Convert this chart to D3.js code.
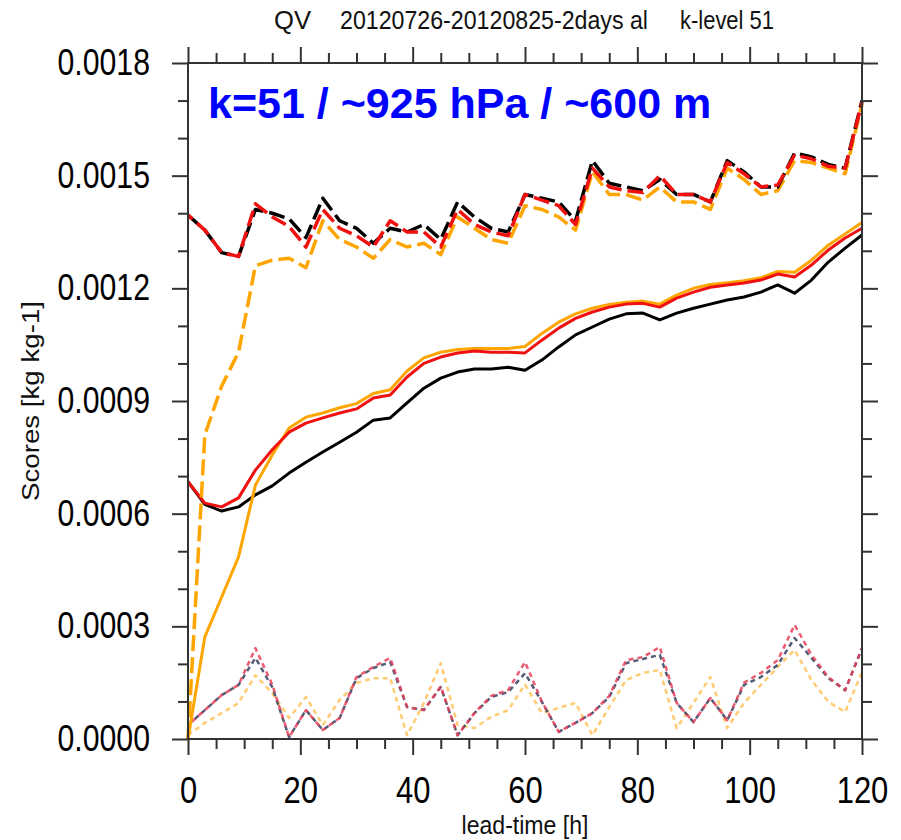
<!DOCTYPE html>
<html>
<head>
<meta charset="utf-8">
<script src="https://cdn.jsdelivr.net/npm/d3@7"></script>
<style>
  body { margin: 0; background: #fff; }
  svg { display: block; }
</style>
</head>
<body>
<svg id="chart"></svg>
<script>
// values are in units of 1e-4 kg/kg
const unit = 1e-4;

const leadTimes = [0, 3, 6, 9, 12, 15, 18, 21, 24, 27, 30, 33, 36, 39, 42, 45, 48, 51, 54, 57, 60,
    63, 66, 69, 72, 75, 78, 81, 84, 87, 90, 93, 96, 99, 102, 105, 108, 111, 114, 117, 120];

// long dashed
const dashBlack = [13.95, 13.55, 12.95, 12.85, 14.1, 14.0, 13.85, 13.35, 14.4, 13.8, 13.6, 13.2, 13.6, 13.5, 13.7, 13.3, 14.3, 13.9, 13.6, 13.5, 14.5,
    14.4, 14.3, 13.8, 15.4, 14.8, 14.7, 14.6, 14.9, 14.5, 14.5, 14.3, 15.4, 15.1, 14.7, 14.7, 15.6, 15.5, 15.3, 15.2, 17.0];
const dashRed = [13.95, 13.55, 12.95, 12.85, 14.25, 13.9, 13.65, 13.1, 14.1, 13.6, 13.4, 13.1, 13.8, 13.5, 13.5, 13.1, 14.1, 13.7, 13.5, 13.4, 14.5,
    14.35, 14.2, 13.7, 15.2, 14.7, 14.6, 14.55, 15.0, 14.5, 14.5, 14.3, 15.35, 15.05, 14.7, 14.75, 15.55, 15.45, 15.25, 15.2, 16.95];
const dashOrange = [0, 8.1, 9.4, 10.3, 12.6, 12.75, 12.8, 12.55, 13.8, 13.3, 13.1, 12.8, 13.3, 13.1, 13.2, 12.9, 13.9, 13.6, 13.3, 13.2, 14.2,
    14.1, 13.9, 13.55, 15.1, 14.5, 14.5, 14.35, 14.7, 14.3, 14.3, 14.1, 15.2, 14.9, 14.5, 14.6, 15.4, 15.35, 15.2, 15.05, 16.9];

// solid
const solidBlack = [6.85, 6.25, 6.07, 6.18, 6.5, 6.74, 7.08, 7.37, 7.64, 7.9, 8.17, 8.49, 8.55, 8.95, 9.34, 9.61, 9.77, 9.85, 9.85, 9.9, 9.82,
    10.09, 10.44, 10.76, 10.97, 11.18, 11.32, 11.34, 11.16, 11.34, 11.47, 11.58, 11.69, 11.77, 11.9, 12.09, 11.87, 12.22, 12.7, 13.07, 13.42];
const solidRed = [6.85, 6.28, 6.18, 6.42, 7.16, 7.7, 8.17, 8.41, 8.55, 8.68, 8.79, 9.08, 9.16, 9.64, 10.0, 10.17, 10.28, 10.33, 10.3, 10.3, 10.28,
    10.62, 10.94, 11.2, 11.37, 11.5, 11.58, 11.6, 11.5, 11.74, 11.9, 12.03, 12.09, 12.14, 12.22, 12.38, 12.3, 12.62, 13.02, 13.34, 13.6];
const solidOrange = [0, 2.72, 3.78, 4.85, 6.76, 7.56, 8.28, 8.57, 8.68, 8.82, 8.93, 9.2, 9.3, 9.8, 10.15, 10.3, 10.37, 10.4, 10.4, 10.4, 10.45,
    10.8, 11.1, 11.32, 11.47, 11.57, 11.63, 11.66, 11.58, 11.82, 12.0, 12.1, 12.15, 12.2, 12.28, 12.45, 12.43, 12.75, 13.15, 13.45, 13.75];

// dotted
const dotBlack = [0.37, 0.77, 1.17, 1.44, 2.16, 1.38, 0.05, 0.77, 0.24, 0.56, 1.62, 1.89, 2.05, 0.85, 0.77, 1.38, 0.1, 0.69, 1.12, 1.25, 1.75,
    0.99, 0.19, 0.43, 0.69, 1.12, 2.02, 2.13, 2.24, 0.96, 0.45, 1.09, 0.5, 1.44, 1.65, 1.97, 2.69, 2.16, 1.62, 1.3, 2.42];
const dotRed = [0.37, 0.77, 1.17, 1.44, 2.42, 1.45, 0.05, 0.77, 0.24, 0.56, 1.65, 1.92, 2.16, 0.85, 0.77, 1.4, 0.1, 0.69, 1.15, 1.3, 2.05,
    1.0, 0.19, 0.43, 0.69, 1.15, 2.1, 2.18, 2.45, 0.96, 0.45, 1.09, 0.5, 1.5, 1.76, 2.1, 3.04, 2.24, 1.65, 1.3, 2.42];
const dotOrange = [0.1, 0.43, 0.69, 0.96, 1.7, 1.22, 0.56, 1.12, 0.37, 1.04, 1.49, 1.62, 1.62, 0.1, 0.96, 2.02, 0.37, 0.29, 0.59, 0.77, 1.45,
    0.69, 0.83, 0.96, 0.1, 0.85, 1.57, 1.76, 1.84, 0.29, 0.96, 1.65, 0.29, 0.96, 1.44, 1.92, 2.37, 1.57, 0.99, 0.72, 1.78];

const yMajor = [0, 0.0003, 0.0006, 0.0009, 0.0012, 0.0015, 0.0018];
const xMajor = [0, 20, 40, 60, 80, 100, 120];

const width = 901, height = 840;
const margin = {top: 63, right: 39, bottom: 101, left: 188};

const svg = d3.select("#chart")
    .attr("width", width)
    .attr("height", height);

svg.append("rect").attr("width", width).attr("height", height).attr("fill", "#fff");

const x = d3.scaleLinear().domain([0, 120]).range([margin.left, width - margin.right]);
const y = d3.scaleLinear().domain([0, 0.0018]).range([height - margin.bottom, margin.top]);

const line = d3.line()
    .x((d, i) => x(leadTimes[i]))
    .y(d => y(d * unit));

const series = [
    {v: dotOrange, color: "#ffc25a", w: 2.5, dash: "5,4", op: 0.85},
    {v: dotBlack, color: "#34405e", w: 2.5, dash: "5,4", op: 0.85},
    {v: dotRed, color: "#e8405a", w: 2.5, dash: "5,4", op: 0.85, off: 4},
    {v: solidBlack, color: "#000", w: 3},
    {v: solidOrange, color: "#ffa500", w: 3},
    {v: solidRed, color: "#f01010", w: 3},
    {v: dashOrange, color: "#ffa500", w: 3.5, dash: "16,6"},
    {v: dashBlack, color: "#000", w: 3.5, dash: "16,6"},
    {v: dashRed, color: "#f01010", w: 3.5, dash: "16,6", off: 10}
];

svg.append("g")
    .selectAll("path")
    .data(series)
    .join("path")
    .attr("d", d => line(d.v))
    .attr("fill", "none")
    .attr("stroke", d => d.color)
    .attr("stroke-width", d => d.w)
    .attr("stroke-dasharray", d => d.dash || null)
    .attr("stroke-dashoffset", d => d.off || 0)
    .attr("stroke-opacity", d => d.op || 1)
    .attr("stroke-linejoin", "round");

// axes
const axisColor = "#333";
const tickFont = "'Liberation Sans', Arial, sans-serif";

function styleAxis(g) {
    g.select(".domain").remove();
    g.selectAll(".tick line").attr("stroke", axisColor).attr("stroke-width", 2);
    g.selectAll("text").attr("fill", "#000").attr("font-family", tickFont);
}

// the source image is stretched vertically: tall glyphs squeezed to a narrower width
function squeeze(sel, size, factor) {
    sel.attr("font-size", size)
        .each(function () {
            const w = this.getComputedTextLength();
            d3.select(this)
                .attr("textLength", w * factor)
                .attr("lengthAdjust", "spacingAndGlyphs");
        });
}

// minor ticks
const yMinor = d3.range(0, 0.00181, 0.0001).filter(v => !yMajor.some(m => Math.abs(m - v) < 1e-9));
const xMinor = d3.range(0, 121, 5).filter(v => v % 20 !== 0);

svg.append("g")
    .attr("transform", `translate(${margin.left},0)`)
    .call(d3.axisLeft(y).tickValues(yMinor).tickSize(10).tickFormat(""))
    .call(styleAxis);
svg.append("g")
    .attr("transform", `translate(${width - margin.right},0)`)
    .call(d3.axisRight(y).tickValues(yMinor).tickSize(10).tickFormat(""))
    .call(styleAxis);
svg.append("g")
    .attr("transform", `translate(0,${height - margin.bottom})`)
    .call(d3.axisBottom(x).tickValues(xMinor).tickSize(10).tickFormat(""))
    .call(styleAxis);
svg.append("g")
    .attr("transform", `translate(0,${margin.top})`)
    .call(d3.axisTop(x).tickValues(xMinor).tickSize(10).tickFormat(""))
    .call(styleAxis);

// major ticks
svg.append("g")
    .attr("transform", `translate(${margin.left},0)`)
    .call(d3.axisLeft(y).tickValues(yMajor).tickSize(16).tickPadding(22).tickFormat(d3.format(".4f")))
    .call(styleAxis)
    .selectAll("text").call(squeeze, 36, 0.84);
svg.append("g")
    .attr("transform", `translate(${width - margin.right},0)`)
    .call(d3.axisRight(y).tickValues(yMajor).tickSize(16).tickFormat(""))
    .call(styleAxis);
svg.append("g")
    .attr("transform", `translate(0,${height - margin.bottom})`)
    .call(d3.axisBottom(x).tickValues(xMajor).tickSize(16).tickPadding(22).tickFormat(d3.format("d")))
    .call(styleAxis)
    .selectAll("text").call(squeeze, 36, 0.86);
svg.append("g")
    .attr("transform", `translate(0,${margin.top})`)
    .call(d3.axisTop(x).tickValues(xMajor).tickSize(16).tickFormat(""))
    .call(styleAxis);

// frame
svg.append("rect")
    .attr("x", margin.left)
    .attr("y", margin.top)
    .attr("width", width - margin.left - margin.right)
    .attr("height", height - margin.top - margin.bottom)
    .attr("fill", "none")
    .attr("stroke", axisColor)
    .attr("stroke-width", 2);

// titles
const labelFont = "'Liberation Sans', Arial, sans-serif";
const cx = (margin.left + width - margin.right) / 2;

const titleParts = [
    {text: "QV", x: 274, len: 37},
    {text: "20120726-20120825-2days al", x: 340, len: 308},
    {text: "k-level 51", x: 680, len: 94}
];
svg.append("g")
    .selectAll("text")
    .data(titleParts)
    .join("text")
    .attr("x", d => d.x)
    .attr("y", 29)
    .attr("font-family", labelFont)
    .attr("font-size", 25)
    .attr("fill", "#111")
    .attr("textLength", d => d.len)
    .attr("lengthAdjust", "spacingAndGlyphs")
    .text(d => d.text);

svg.append("text")
    .attr("transform", `translate(39,${(margin.top + height - margin.bottom) / 2}) rotate(-90)`)
    .attr("text-anchor", "middle")
    .attr("font-family", labelFont)
    .attr("font-size", 23)
    .attr("fill", "#111")
    .attr("textLength", 200)
    .attr("lengthAdjust", "spacingAndGlyphs")
    .text("Scores [kg kg-1]");

svg.append("text")
    .attr("x", cx)
    .attr("y", 834)
    .attr("text-anchor", "middle")
    .attr("font-family", labelFont)
    .attr("font-size", 25)
    .attr("fill", "#111")
    .attr("textLength", 127)
    .attr("lengthAdjust", "spacingAndGlyphs")
    .text("lead-time [h]");

svg.append("text")
    .attr("x", 208)
    .attr("y", 118)
    .attr("font-family", labelFont)
    .attr("font-weight", "bold")
    .attr("font-size", 43)
    .attr("fill", "#0000ff")
    .text("k=51 / ~925 hPa / ~600 m");
</script>
</body>
</html>
